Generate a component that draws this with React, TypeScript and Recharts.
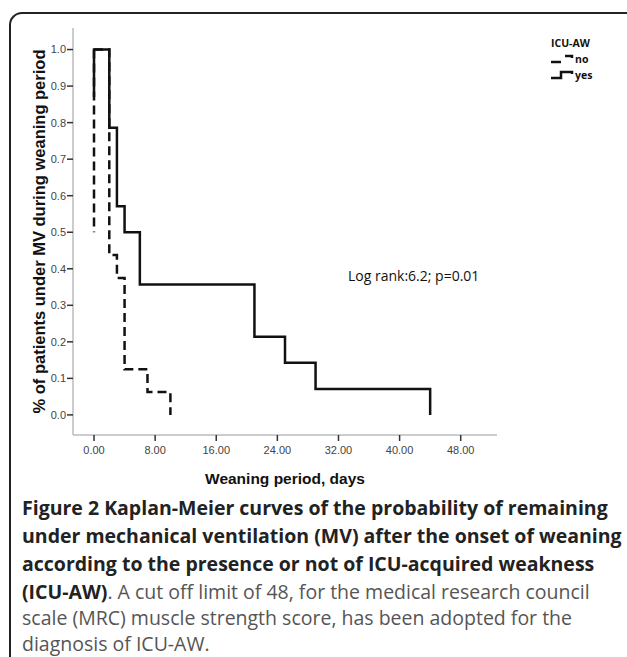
import { LineChart, Line, XAxis, YAxis } from 'recharts';

// weaning period (days) and share still under MV
const yesTime = [0, 0, 2, 3, 4, 6, 21, 25, 29, 44];
const yesSurv = [0.87, 1, 0.786, 0.571, 0.5, 0.357, 0.214, 0.143, 0.071, 0];
const noTime = [0, 2, 3, 4, 7, 10];
const noSurv = [1, 0.4375, 0.375, 0.125, 0.0625, 0];
// the separate dashed drop drawn at day 0
const noStartTime = [0, 0];
const noStartSurv = [1, 0.5];

const xTicks = [0, 8, 16, 24, 32, 40, 48];
const yTicks = [0, 0.1, 0.2, 0.3, 0.4, 0.5, 0.6, 0.7, 0.8, 0.9, 1.0];

const toRows = (t: number[], s: number[]) => t.map((v, i) => ({ t: v, s: s[i] }));

const yesData = toRows(yesTime, yesSurv);
const noData = toRows(noTime, noSurv);
const noStartData = toRows(noStartTime, noStartSurv);

const tickStyle = { fontSize: 11, fill: '#444', fontFamily: 'Liberation Sans, Arial, sans-serif' };
const titleFont = { fontWeight: 'bold', fill: '#111', fontFamily: 'Liberation Sans, Arial, sans-serif' };

function LegendBox() {
  return (
    <div
      style={{
        position: 'absolute',
        left: 551,
        top: 35,
        fontFamily: 'Open Sans, sans-serif',
        fontSize: 10.5,
        color: '#111',
        fontWeight: 'bold',
        lineHeight: '16px',
      }}
    >
      <div>ICU-AW</div>
      <div style={{ display: 'flex', alignItems: 'center' }}>
        <svg width={23} height={10}>
          <path d="M0 8 H10" stroke="#111" strokeWidth={2.5} fill="none" />
          <path d="M14 2 H21 V4" stroke="#111" strokeWidth={2.5} fill="none" />
        </svg>
        <span style={{ marginLeft: 1 }}>no</span>
      </div>
      <div style={{ display: 'flex', alignItems: 'center' }}>
        <svg width={23} height={10}>
          <path d="M0 8 H10 V2 H21 V4" stroke="#111" strokeWidth={2.5} fill="none" />
        </svg>
        <span style={{ marginLeft: 1 }}>yes</span>
      </div>
    </div>
  );
}

const bold = { color: '#222', fontWeight: 'bold' as const };

export default function App() {
  return (
    <div style={{ position: 'absolute', left: 0, top: 0, width: 627, height: 657, overflow: 'hidden', background: '#fff' }}>
      <div
        style={{
          position: 'absolute',
          left: 9,
          top: 12,
          width: 700,
          height: 700,
          border: '2px solid #222',
          borderTopLeftRadius: 13,
          boxSizing: 'border-box',
        }}
      />
      <div style={{ position: 'absolute', left: 0, top: 0 }}>
        <LineChart width={627} height={500} margin={{ top: 28, right: 130, left: 0, bottom: 0 }}>
          <XAxis
            type="number"
            dataKey="t"
            domain={[-2.75, 52.75]}
            ticks={xTicks}
            allowDataOverflow
            tickFormatter={(v: number) => v.toFixed(2)}
            tick={tickStyle}
            tickSize={6}
            tickMargin={5}
            height={65}
            axisLine={{ stroke: '#bbb', strokeWidth: 1.5 }}
            tickLine={{ stroke: '#333', strokeWidth: 1.5 }}
            label={{ value: 'Weaning period, days', position: 'center', dy: 11, style: { ...titleFont, fontSize: 15.5 } }}
          />
          <YAxis
            type="number"
            dataKey="s"
            domain={[-0.055, 1.059]}
            ticks={yTicks}
            allowDataOverflow
            tickFormatter={(v: number) => v.toFixed(1)}
            tick={tickStyle}
            tickSize={6}
            tickMargin={1}
            width={73}
            axisLine={{ stroke: '#bbb', strokeWidth: 1.5 }}
            tickLine={{ stroke: '#333', strokeWidth: 1.5 }}
            label={{
              value: '% of patients under MV during weaning period',
              angle: -90,
              position: 'center',
              dx: 3,
              style: { ...titleFont, fontSize: 16.5 },
            }}
          />
          <Line
            data={noStartData}
            dataKey="s"
            type="linear"
            stroke="#111"
            strokeWidth={2.5}
            strokeDasharray="9 5"
            dot={false}
            activeDot={false}
            isAnimationActive={false}
          />
          <Line
            data={noData}
            dataKey="s"
            name="no"
            type="stepAfter"
            stroke="#111"
            strokeWidth={2.5}
            strokeDasharray="9 5"
            dot={false}
            activeDot={false}
            isAnimationActive={false}
          />
          <Line
            data={yesData}
            dataKey="s"
            name="yes"
            type="stepAfter"
            stroke="#111"
            strokeWidth={2.5}
            dot={false}
            activeDot={false}
            isAnimationActive={false}
          />
        </LineChart>
      </div>
      <LegendBox />
      <div
        style={{
          position: 'absolute',
          left: 348,
          top: 266,
          fontFamily: 'Open Sans, sans-serif',
          fontSize: 14,
          lineHeight: '20px',
          color: '#111',
          whiteSpace: 'nowrap',
        }}
      >
        Log rank:6.2; p=0.01
      </div>
      <div
        style={{
          position: 'absolute',
          left: 22,
          top: 494,
          width: 605,
          fontFamily: 'Open Sans, sans-serif',
          fontSize: 19.5,
          color: '#555',
          whiteSpace: 'nowrap',
        }}
      >
        <div style={{ ...bold, lineHeight: '28px' }}>Figure 2 Kaplan-Meier curves of the probability of remaining</div>
        <div style={{ ...bold, lineHeight: '28px' }}>under mechanical ventilation (MV) after the onset of weaning</div>
        <div style={{ ...bold, lineHeight: '28px' }}>according to the presence or not of ICU-acquired weakness</div>
        <div style={{ lineHeight: '27px' }}>
          <span style={bold}>(ICU-AW)</span>. A cut off limit of 48, for the medical research council
        </div>
        <div style={{ lineHeight: '26px' }}>scale (MRC) muscle strength score, has been adopted for the</div>
        <div style={{ lineHeight: '26px' }}>diagnosis of ICU-AW.</div>
      </div>
    </div>
  );
}
